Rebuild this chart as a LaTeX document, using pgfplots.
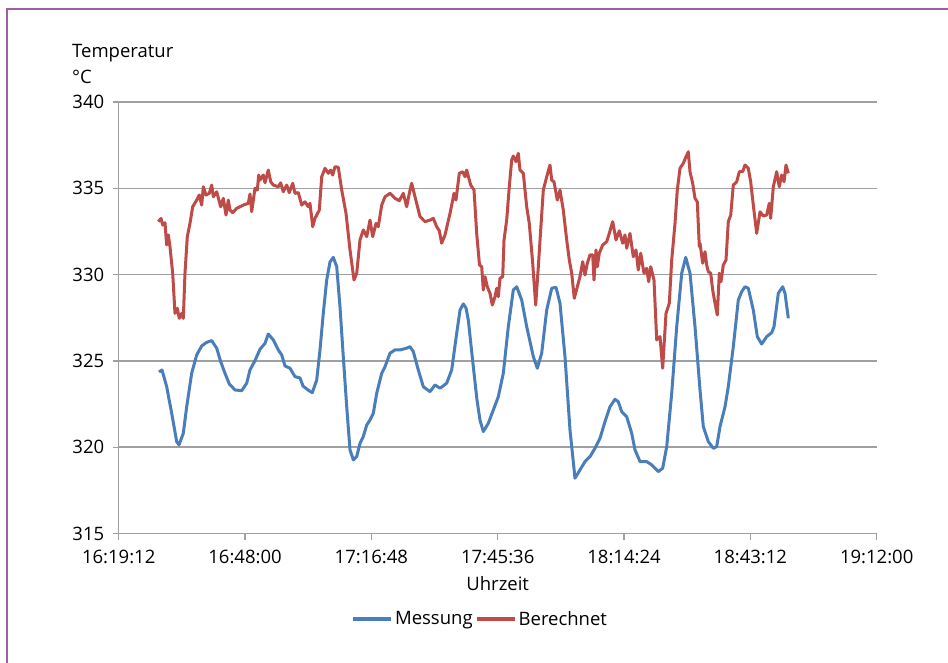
\documentclass[border=0pt]{standalone}
\usepackage{fontspec}
\setmainfont{Open Sans}
\usepackage{pgfplots}
\pgfplotsset{compat=1.18}
\definecolor{mblue}{RGB}{74,126,187}
\definecolor{bred}{RGB}{190,75,72}
\definecolor{gridgray}{RGB}{160,160,160}
\definecolor{framec}{RGB}{163,95,165}
\newcommand{\chartfont}{\fontsize{18.5}{22}\selectfont}
\begin{document}
\begin{tikzpicture}
\path[use as bounding box] (-118.7pt,-128.4pt) rectangle (829.3pt,533.6pt);
\draw[framec, line width=1.5pt] (-111.7pt,-135pt) -- (-111.7pt,524.6pt) -- (835pt,524.6pt);
\begin{axis}[
  at={(0pt,0pt)}, anchor=south west,
  scale only axis, width=758pt, height=431.6pt,
  xmin=0, xmax=172.8, ymin=315, ymax=340,
  xtick={0,28.8,57.6,86.4,115.2,144,172.8},
  xticklabels={16:19:12,16:48:00,17:16:48,17:45:36,18:14:24,18:43:12,19:12:00},
  ytick={315,320,325,330,335,340},
  axis x line*=bottom, axis y line*=left,
  axis line style={gridgray, line width=1.6pt, -},
  ymajorgrids, grid style={gridgray, line width=1.6pt},
  major tick style={gridgray, line width=1.3pt},
  tick align=outside, major tick length=6pt,
  /pgf/number format/assume math mode=true,
  tick label style={font=\chartfont},
  xticklabel style={yshift=-7pt},
  yticklabel style={xshift=-5pt},
  xlabel={Uhrzeit},
  x label style={font=\chartfont, at={(axis description cs:0.5,-0.1159)}, anchor=center},
  legend style={at={(0.4767,-0.1979)}, anchor=center, draw=none, fill=none,
    legend columns=2, font=\chartfont,
    /tikz/every even column/.append style={column sep=0pt},
    inner sep=0pt},
  legend image code/.code={\draw[#1, line width=4pt] (0pt,0pt) -- (38pt,0pt);},
  clip=false,
]
\addplot[mblue, line width=3pt, line join=round] coordinates {
(9.19,324.36) (9.87,324.48) (10.94,323.51) (12.08,321.97) (13.22,320.33) (13.75,320.14)
(14.73,320.81) (15.50,322.35) (16.64,324.29) (17.78,325.35) (18.92,325.87) (20.06,326.08)
(21.20,326.18) (22.34,325.74) (23.25,324.96) (24.23,324.29) (25.21,323.67) (26.51,323.32)
(28.04,323.28) (29.18,323.71) (29.93,324.48) (31.07,325.02) (32.21,325.68) (33.35,326.02)
(34.10,326.56) (35.24,326.22) (36.38,325.64) (37.16,325.35) (37.91,324.71) (39.05,324.58)
(40.19,324.09) (41.33,324.02) (42.01,323.55) (43.15,323.32) (44.13,323.16) (45.14,323.90)
(45.89,325.64) (46.64,327.76) (47.42,329.69) (48.17,330.73) (48.92,331.00) (49.70,330.46)
(50.45,328.14) (51.20,325.25) (51.98,322.35) (52.73,319.85) (53.48,319.27) (54.26,319.46)
(55.01,320.23) (55.76,320.62) (56.54,321.29) (57.29,321.58) (58.04,321.97) (58.82,323.13)
(59.96,324.29) (60.71,324.67) (61.85,325.45) (62.99,325.64) (64.13,325.64) (65.65,325.74)
(66.41,325.83) (67.16,325.54) (68.30,324.48) (69.44,323.51) (70.97,323.22) (72.11,323.61)
(73.25,323.42) (74.77,323.71) (75.91,324.48) (77.05,326.60) (77.81,327.95) (78.56,328.30)
(79.17,328.07) (79.70,327.37) (80.84,324.67) (81.68,322.74) (82.36,321.58) (83.12,320.91)
(84.26,321.39) (85.40,322.16) (86.54,322.93) (87.68,324.29) (88.82,326.99) (89.96,329.11)
(90.73,329.30) (91.87,328.53) (93.01,326.99) (94.52,325.25) (95.43,324.58) (96.43,325.45)
(97.57,327.95) (98.71,329.21) (99.69,329.27) (100.60,328.34) (101.74,325.25) (102.88,321.00)
(104.02,318.21) (105.16,318.69) (106.30,319.17) (107.44,319.46) (108.58,319.94) (109.72,320.52)
(110.86,321.49) (112.00,322.35) (113.14,322.78) (113.89,322.64) (114.67,322.06) (115.81,321.77)
(116.95,320.81) (117.70,319.85) (118.84,319.17) (120.37,319.17) (121.51,318.98) (123.01,318.59)
(124.01,318.79) (124.93,320.04) (126.07,323.13) (127.21,326.99) (128.35,330.08) (129.26,331.00)
(130.24,330.08) (131.38,326.99) (132.52,323.32) (133.27,321.20) (134.41,320.33) (135.55,319.94)
(136.32,320.04) (137.08,321.20) (138.22,322.35) (138.97,323.51) (140.11,325.83) (141.25,328.53)
(142.02,329.01) (142.77,329.30) (143.53,329.21) (144.67,327.95) (145.58,326.41) (146.58,325.98)
(147.72,326.41) (148.86,326.64) (149.39,326.99) (150.37,328.92) (151.37,329.30) (151.90,328.92)
(152.65,327.47)
};
\addlegendentry{Messung}
\addplot[bred, line width=3pt, line join=round] coordinates {
(9.03,333.07) (9.64,333.26) (10.03,332.87) (10.55,333.01) (10.94,331.72) (11.31,332.30)
(11.69,331.62) (12.31,330.08) (12.83,327.76) (13.36,328.05) (13.81,327.47) (14.36,327.76)
(14.73,327.47) (15.11,330.08) (15.64,332.20) (16.25,332.97) (16.87,333.93) (17.78,334.32)
(18.37,334.61) (18.92,334.03) (19.29,335.09) (19.90,334.61) (20.65,334.71) (21.20,335.19)
(21.57,334.51) (22.34,334.80) (23.25,333.93) (23.85,334.42) (24.46,333.45) (24.99,334.32)
(25.37,333.74) (25.99,333.59) (26.90,333.84) (28.40,334.03) (29.54,334.13) (29.93,334.67)
(30.32,333.65) (31.07,335.00) (31.60,334.90) (31.92,335.77) (32.21,335.48) (32.96,335.77)
(33.35,335.32) (34.10,336.06) (34.65,335.38) (35.24,335.19) (36.38,335.09) (36.93,335.32)
(37.52,334.80) (38.30,335.19) (38.89,334.75) (39.67,335.29) (40.19,334.71) (40.94,334.75)
(41.72,334.03) (42.47,334.22) (43.22,333.93) (43.61,334.13) (44.23,332.78) (44.75,333.26)
(45.73,333.74) (46.28,335.67) (47.03,336.16) (47.78,335.87) (48.33,336.06) (48.79,335.77)
(49.31,336.25) (50.06,336.22) (50.84,334.90) (51.82,333.55) (52.73,331.43) (53.64,329.69)
(54.26,330.08) (55.01,332.01) (55.76,332.59) (56.54,332.20) (57.29,333.16) (57.90,332.20)
(58.66,332.97) (59.18,332.78) (59.96,334.03) (60.71,334.51) (61.85,334.71) (62.99,334.42)
(63.97,334.28) (64.88,334.71) (65.65,333.93) (66.25,334.71) (66.79,335.29) (67.55,334.51)
(68.69,333.36) (69.83,333.07) (70.97,333.16) (71.72,333.26) (72.49,332.78) (73.09,332.54)
(73.63,331.82) (74.39,332.30) (75.53,333.55) (76.44,334.71) (76.89,334.32) (77.65,335.87)
(78.42,335.96) (78.95,335.67) (79.33,336.06) (80.24,335.19) (81.00,334.90) (81.61,332.39)
(82.25,330.56) (82.75,330.46) (83.12,329.11) (83.51,329.88) (84.03,329.30) (84.64,328.92)
(85.17,328.24) (85.78,328.72) (86.17,329.21) (86.54,328.72) (86.92,329.79) (87.54,329.88)
(87.84,332.01) (88.45,333.16) (89.04,335.09) (89.59,336.64) (89.96,336.87) (90.57,336.54)
(91.10,337.03) (91.48,336.06) (92.24,335.87) (93.01,333.93) (93.60,332.97) (94.38,330.66)
(95.06,328.24) (95.66,330.46) (96.20,332.59) (96.80,334.90) (97.57,335.67) (98.32,336.35)
(98.71,335.48) (99.23,335.38) (99.99,334.32) (100.60,334.90) (101.35,333.74) (102.13,332.01)
(102.72,330.85) (103.27,330.08) (103.86,328.63) (104.55,329.30) (105.16,329.88) (105.78,330.75)
(106.30,329.98) (106.83,330.66) (107.44,331.14) (108.06,331.14) (108.35,329.69) (108.81,331.43)
(109.11,330.46) (109.56,331.24) (110.34,331.72) (111.25,331.91) (111.84,332.39) (112.62,333.07)
(113.37,332.01) (114.12,332.54) (114.90,331.82) (115.42,332.30) (115.81,331.53) (116.56,332.39)
(117.31,331.04) (117.93,331.43) (118.45,330.27) (119.00,331.24) (119.75,330.08) (120.37,330.37)
(120.82,329.59) (121.28,330.46) (122.03,329.69) (122.65,326.22) (123.40,326.41) (124.01,324.58)
(124.77,327.76) (125.52,328.34) (126.07,330.85) (126.82,332.97) (127.34,334.90) (127.96,336.16)
(128.71,336.45) (129.33,336.83) (129.85,337.12) (130.24,335.96) (130.85,335.29) (131.38,334.42)
(131.90,334.22) (132.36,331.62) (132.52,331.82) (133.13,330.66) (133.66,331.33) (134.04,330.56)
(134.41,330.17) (134.96,330.08) (135.41,329.11) (135.94,328.34) (136.46,327.66) (136.92,330.08)
(137.31,329.59) (137.83,330.56) (138.45,330.85) (138.97,333.07) (139.52,333.45) (140.11,335.19)
(140.88,335.38) (141.48,335.96) (142.25,335.96) (142.77,336.35) (143.53,336.16) (144.07,335.38)
(144.67,334.03) (145.44,332.39) (146.20,333.64) (146.95,333.40) (147.72,333.45) (148.31,334.13)
(148.63,333.26) (149.23,335.09) (150.00,335.96) (150.59,335.09) (151.14,335.77) (151.67,335.38)
(152.12,336.35) (152.65,335.87)
};
\addlegendentry{Berechnet}
\end{axis}
\node[anchor=west, inner sep=0pt, font=\chartfont] at (-46.7pt,480.6pt) {Temperatur};
\node[anchor=west, inner sep=0pt, font=\chartfont] at (-46.7pt,456.6pt) {°C};
\end{tikzpicture}
\end{document}
